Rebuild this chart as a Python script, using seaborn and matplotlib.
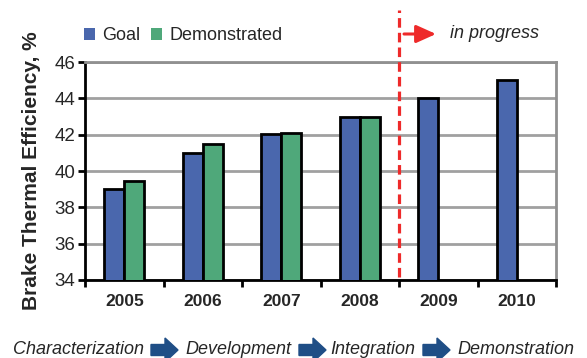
import matplotlib
matplotlib.use("Agg")
import matplotlib.pyplot as plt
from matplotlib.patches import Patch, FancyArrow
import seaborn as sns
import pandas as pd
import numpy as np

# Brake thermal efficiency targets and results by year
years = ["2005", "2006", "2007", "2008", "2009", "2010"]
goal = [39.0, 41.0, 42.05, 43.0, 44.0, 45.0]
demonstrated = [39.45, 41.5, 42.1, 43.0, np.nan, np.nan]
series_names = ["Goal", "Demonstrated"]
y_ticks = [34, 36, 38, 40, 42, 44, 46]
phases = ["Characterization", "Development", "Integration", "Demonstration"]

colors = {"Goal": "#4A67AD", "Demonstrated": "#4FA87A"}

df = pd.DataFrame({
    "Year": years * 2,
    "Series": [series_names[0]] * len(years) + [series_names[1]] * len(years),
    "Efficiency": goal + demonstrated,
})

sns.set_theme(style="white")
plt.rcParams["font.family"] = ["Liberation Sans", "DejaVu Sans"]

W, H = 587, 358
fig = plt.figure(figsize=(W / 100, H / 100), dpi=100)
ax = fig.add_axes([85 / W, (H - 280) / H, (556 - 85) / W, (280 - 62) / H])

sns.barplot(data=df, x="Year", y="Efficiency", hue="Series", order=years,
            hue_order=series_names, palette=colors, width=0.51, saturation=1,
            edgecolor="black", linewidth=2, errorbar=None, ax=ax, zorder=3,
            legend=False)

ax.set_ylim(34, 46)
ax.set_xlim(-0.5, len(years) - 0.5)
ax.set_yticks(y_ticks)
ax.set_yticklabels([str(t) for t in y_ticks], fontsize=13.5)
ax.yaxis.grid(True, color="#A0A0A0", linewidth=2)
ax.set_axisbelow(True)

# category labels centred, tick marks at category boundaries
ax.set_xticks(range(len(years)))
ax.set_xticklabels(years, fontsize=12.5, fontweight="bold")
ax.set_xticks(np.arange(-0.5, len(years), 1.0), minor=True)
ax.tick_params(axis="x", which="major", length=0, pad=10)
ax.tick_params(axis="x", which="minor", length=5, width=2, color="black",
               direction="out", bottom=True)
ax.tick_params(axis="y", which="major", length=5, width=2, color="black",
               direction="out", left=True, pad=2)
ax.set_xlabel("")
ax.set_ylabel("Brake Thermal Efficiency, %", fontsize=15, fontweight="bold",
              labelpad=10)

for side in ("left", "bottom"):
    ax.spines[side].set_color("black")
    ax.spines[side].set_linewidth(2)
for side in ("top", "right"):
    ax.spines[side].set_color("#909090")
    ax.spines[side].set_linewidth(2)

# legend
handles = [Patch(facecolor=colors[s], edgecolor="none", label=s) for s in series_names]
fig.legend(handles=handles, loc="center left", bbox_to_anchor=(84 / W, (H - 36) / H),
           ncol=2, frameon=False, fontsize=13, handlelength=0.6, handleheight=0.6,
           handletextpad=0.4, columnspacing=0.6, borderaxespad=0, borderpad=0)

# divider between completed and planned years
ax.axvline(3.5, ymin=(280 - 277) / 218, ymax=(280 - 10) / 218, color="#EE2A2A",
           linestyle=(0, (3, 1.6)), linewidth=2.3, clip_on=False, zorder=4)
ax.annotate("", xy=(436 / W, (H - 34) / H), xytext=(404 / W, (H - 34) / H),
            xycoords="figure fraction", textcoords="figure fraction",
            arrowprops=dict(arrowstyle="-|>,head_length=1.0,head_width=0.45",
                            color="#EE2A2A", lw=2.2, shrinkA=0, shrinkB=0))
fig.text(450 / W, (H - 34) / H, "in progress", fontsize=13, style="italic",
         ha="left", va="center")

# program phases along the bottom
text_x = [13, 185, 330, 457]
arrow_x = [151, 299, 423]
y_mid = 350
for x, label in zip(text_x, phases):
    fig.text(x / W, (H - y_mid) / H, label, fontsize=13, style="italic",
             ha="left", va="center")
for x in arrow_x:
    fig.patches.append(FancyArrow(x / 100, (H - y_mid) / 100, 0.27, 0,
                                  width=0.11, head_width=0.24, head_length=0.13,
                                  length_includes_head=True, color="#1F4E86",
                                  transform=fig.dpi_scale_trans, figure=fig))

fig.savefig("out.png", dpi=100)
